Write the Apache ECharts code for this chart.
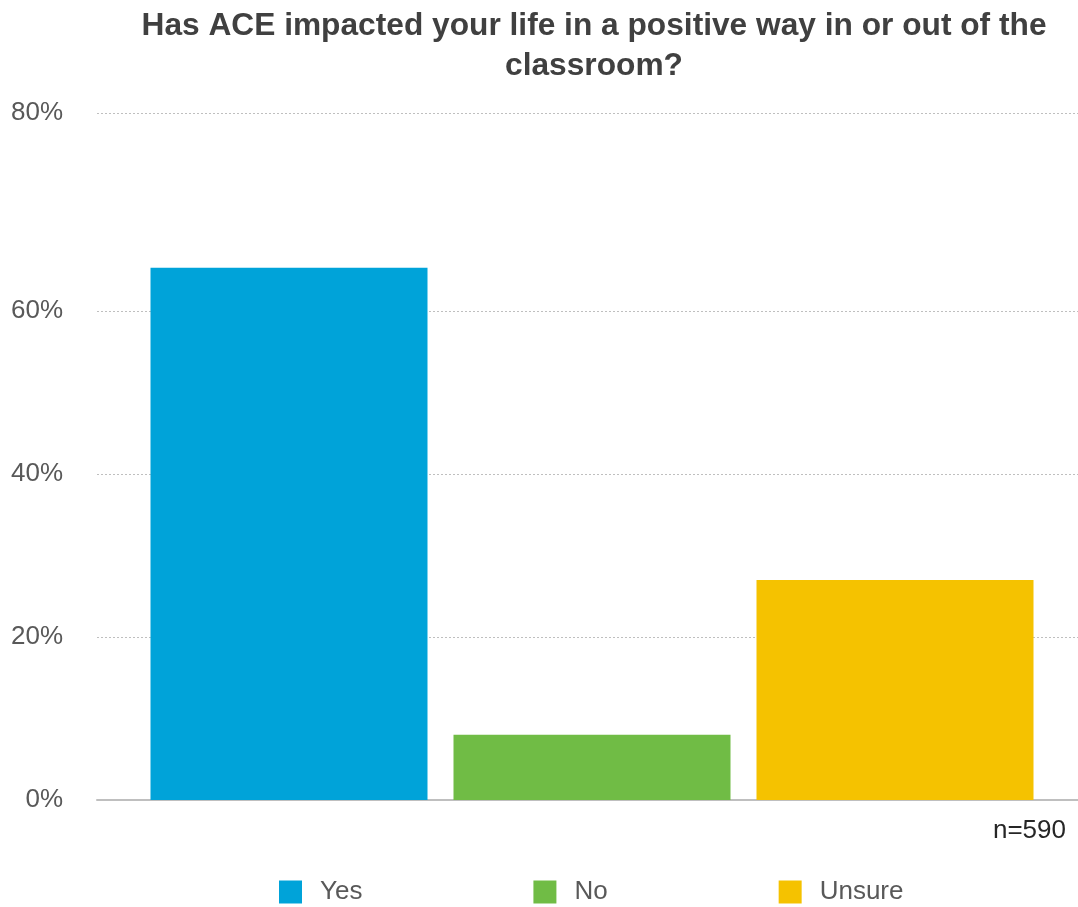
<!DOCTYPE html>
<html>
<head>
<meta charset="utf-8">
<script src="https://cdn.jsdelivr.net/npm/echarts@6/dist/echarts.min.js"></script>
<style>
  html, body { margin: 0; padding: 0; background: #fff; }
  #chart { width: 1078px; height: 907px; }
</style>
</head>
<body>
<div id="chart"></div>
<script>
// survey answers, percent of respondents
var categories = ["Yes", "No", "Unsure"];
var values = [65.3, 8, 27];
var colors = ["#00a3d9", "#70bc45", "#f5c200"];

// the top gridline sits higher than the 20% step, labelled 80%
var tickValues = [0, 20, 40, 60, 84.3];
var tickLabels = ["0%", "20%", "40%", "60%", "80%"];
var axisMax = 84.3;

var font = "Liberation Sans, Arial, sans-serif";

var myChart = echarts.init(document.getElementById("chart"));

var series = categories.map(function (name, i) {
  var d = categories.map(function (c, j) {
    return j === i ? values[i] : "-";
  });
  return {
    name: name,
    type: "bar",
    xAxisIndex: 1,
    yAxisIndex: 1,
    data: d,
    barWidth: 277,
    barGap: "-100%",
    itemStyle: { color: colors[i] },
    silent: true,
  };
});

var option = {
  backgroundColor: "#fff",
  animation: false,
  title: {
    text: "Has ACE impacted your life in a positive way in or out of the\nclassroom?",
    left: 589,
    top: 1,
    textAlign: "center",
    textStyle: {
      fontFamily: font,
      fontSize: 31.7,
      fontWeight: "bold",
      color: "#404040",
      lineHeight: 40,
    },
  },
  legend: {
    data: categories,
    left: 274,
    bottom: -3,
    itemWidth: 23,
    itemHeight: 23,
    itemGap: 171,
    icon: "rect",
    textStyle: {
      fontFamily: font,
      fontSize: 26,
      color: "#595959",
      padding: [0, 0, 0, 13],
    },
  },
  grid: [
    { left: 97, right: 0, top: 113, bottom: 107 },
    { left: 137.5, right: 31.5, top: 113, bottom: 107 },
  ],
  xAxis: [
    {
      gridIndex: 0,
      type: "category",
      data: [""],
      axisLine: { lineStyle: { color: "#bfbfbf", width: 2 } },
      axisTick: { show: false },
      axisLabel: { show: false },
    },
    {
      gridIndex: 1,
      type: "category",
      data: categories,
      show: false,
    },
  ],
  yAxis: [
    {
      gridIndex: 0,
      type: "value",
      min: 0,
      max: axisMax,
      axisLine: { show: false },
      axisTick: { show: false, customValues: tickValues },
      axisLabel: {
        customValues: tickValues,
        margin: 34,
        fontFamily: font,
        fontSize: 26,
        color: "#595959",
        formatter: function (v) {
          var i = tickValues.indexOf(v);
          return i >= 0 ? tickLabels[i] : "";
        },
      },
      splitLine: {
        show: true,
        lineStyle: { color: "#bfbfbf", type: [2, 2], width: 1 },
      },
    },
    {
      gridIndex: 1,
      type: "value",
      min: 0,
      max: axisMax,
      show: false,
      splitLine: { show: false },
    },
  ],
  graphic: [
    {
      type: "text",
      right: 12,
      top: 818,
      style: {
        text: "n=590",
        fontFamily: font,
        fontSize: 26,
        fill: "#262626",
      },
    },
  ],
  series: series,
};

myChart.setOption(option);
</script>
</body>
</html>
